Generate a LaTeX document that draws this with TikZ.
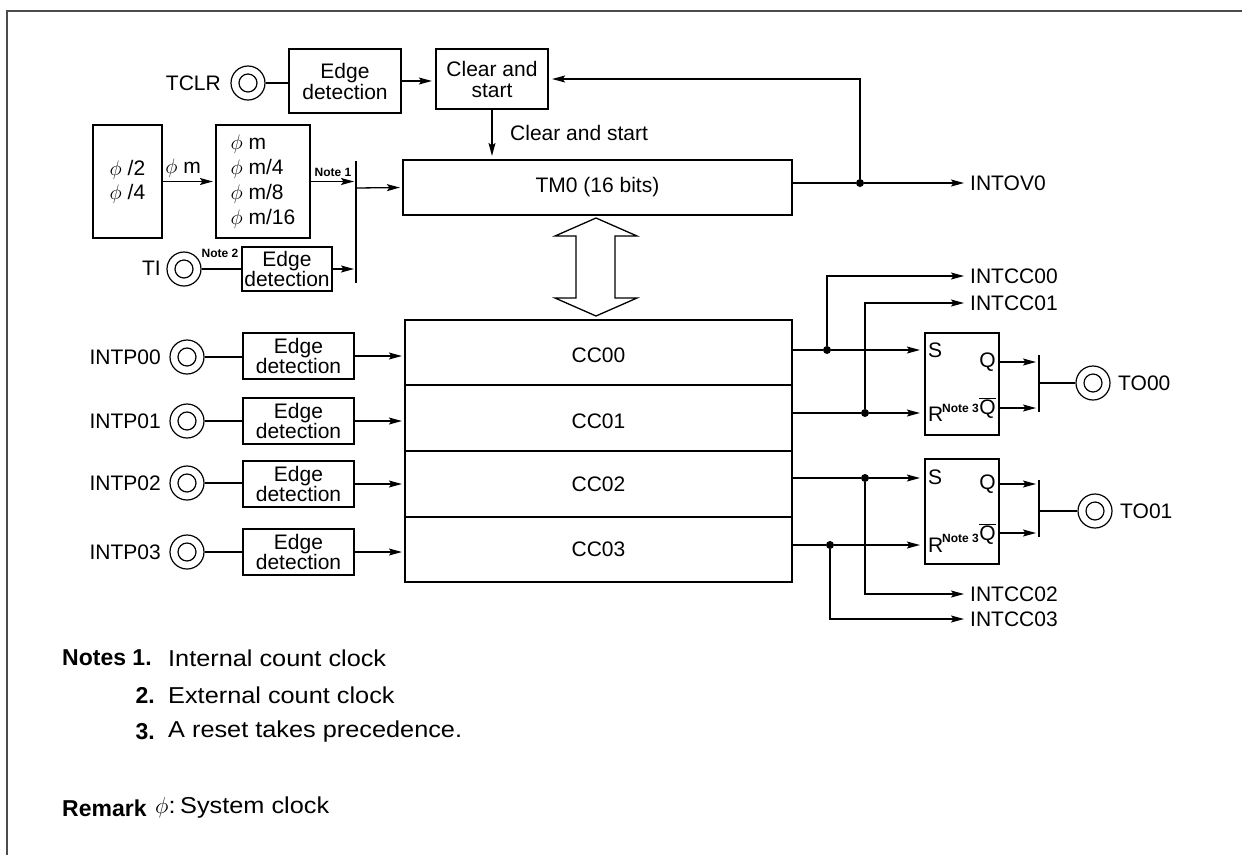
\RequirePackage{fix-cm}
\documentclass[tikz,border=0pt]{standalone}
\usepackage{fontspec}
\setmainfont{Liberation Sans}
\usetikzlibrary{arrows.meta,calc}
\begin{document}
\begin{tikzpicture}[x=1pt,y=-1pt,
  fnt/.style={font=\fontsize{21}{21}\selectfont},
  box/.style={draw, line width=2.2pt, inner sep=0pt, align=center, fnt},
  tbox/.style={box, font=\fontsize{21}{15}\selectfont},
  lbl/.style={inner sep=0pt, fnt},
  small/.style={inner sep=0pt, font=\fontsize{12}{12}\selectfont\bfseries},
  term/.style={circle, draw, line width=1.2pt, minimum size=34pt, inner sep=0pt,
    path picture={\draw[line width=1.2pt] (path picture bounding box.center) circle[radius=9pt];}},
  wire/.style={line width=1.3pt},
  arr/.style={wire, -{Stealth[length=13pt,width=7pt,inset=2.5pt]}},
  dot/.style={circle, fill, inner sep=0pt, minimum size=8pt},
  note/.style={inner sep=0pt, anchor=west, font=\fontsize{23}{23}\selectfont\addfontfeature{FakeStretch=1.1}},
  bnote/.style={inner sep=0pt, anchor=west, font=\fontsize{23}{23}\selectfont\bfseries},
]
\useasboundingbox (0,0) rectangle (1242,855);
\draw[line width=2pt, black!70] (7,855) -- (7,11) -- (1242,11);

% ---- top part
\node[term] (tclr) at (248,83) {};
\node[lbl, anchor=east] (ltclr) at (221,83) {TCLR};
\node[box, minimum width=112pt, minimum height=64pt] (edT) at (345,81) {Edge\\detection};
\node[box, minimum width=112pt, minimum height=60pt] (clr) at (492,79) {Clear and\\start};
\draw[wire] (tclr.east) -- (tclr.east -| edT.west);
\draw[arr, shorten >=3pt] (edT.east) -- (edT.east -| clr.west);
\node[box, minimum width=389pt, minimum height=55pt] (tm) at (597.5,187.5) {TM0 (16 bits)};
\draw[arr, shorten >=3pt] (clr.south) -- (clr.south |- tm.north);
\node[lbl, anchor=west] (lcs) at (510,133) {Clear and start};
\node[lbl, anchor=west] (intov) at (970,183) {INTOV0};
\node[dot] (jov) at (860,183) {};
\draw[wire] (tm.east |- jov) -- (jov);
\draw[arr] (jov) -- ([xshift=-6pt]intov.west);
\draw[arr, shorten >=3pt] (jov) |- (clr.east);

% ---- clock selection
\node[box, minimum width=69pt, minimum height=113pt, font=\fontsize{21}{24}\selectfont] (div) at (127.5,181.5) {$\phi$ /2\\$\phi$ /4};
\node[box, minimum width=94pt, minimum height=113pt, align=left, font=\fontsize{21}{25}\selectfont] (pre) at (263,181.5) {$\phi$ m\\$\phi$ m/4\\$\phi$ m/8\\$\phi$ m/16};
\draw[arr, shorten >=2pt] (div.east) -- (pre.west);
\node[lbl] (lpm) at (183,168) {$\phi$ m};
\coordinate (selT) at (356,161);
\coordinate (selB) at (356,283);
\draw[wire] (selT) -- (selB);
\draw[arr, shorten >=2pt] (pre.east) -- (pre.east -| selT);
\node[small] (n1) at (333,172) {Note 1};
\coordinate (selO) at (356,188);
\draw[arr, shorten >=2pt] (selO) -- (tm.west);
\node[term] (ti) at (184,269) {};
\node[lbl, anchor=east] (lti) at (161,268) {TI};
\node[tbox, minimum width=90pt, minimum height=44pt] (edTI) at (287,269) {Edge\\detection};
\draw[wire] (ti.east) -- (edTI.west);
\node[small] (n2) at (220,253) {Note 2};
\draw[arr, shorten >=2pt] (edTI.east) -- (edTI.east -| selT);

% ---- bidirectional bus arrow
\draw[line width=1.3pt, fill=white] (596,218) -- (637,236) -- (615,236) -- (615,298) -- (637,298)
  -- (596,316) -- (555,298) -- (576,298) -- (576,236) -- (555,236) -- cycle;

% ---- capture/compare registers
\node[box, minimum width=387pt, minimum height=262pt] (cc) at (598.5,451) {};
\foreach \y in {385,451,517} \draw[wire] (cc.west |- 0,\y) -- (cc.east |- 0,\y);
\node[lbl] (cc0) at (598.5,355) {CC00};
\node[lbl] (cc1) at (598.5,421) {CC01};
\node[lbl] (cc2) at (598.5,484) {CC02};
\node[lbl] (cc3) at (598.5,549) {CC03};

\foreach \i/\yc/\yb in {0/357/356, 1/421/421, 2/483/484, 3/552/552} {
  \node[term] (p\i) at (187,\yc) {};
  \node[lbl, anchor=east] (lp\i) at (161,\yc) {INTP0\i};
  \node[tbox, minimum width=111pt, minimum height=46pt] (e\i) at (298.5,\yb) {Edge\\detection};
  \draw[wire] (p\i.east) -- (p\i.east -| e\i.west);
  \draw[arr, shorten >=2pt] (e\i.east) -- (e\i.east -| cc.west);
}

% ---- flip-flops
\node[box, minimum width=74pt, minimum height=102pt] (ff0) at (962,384) {};
\node[box, minimum width=74pt, minimum height=105pt] (ff1) at (962,511.5) {};
\node[lbl, anchor=west] (s0) at (928,350) {S};
\node[lbl, anchor=west] (r0) at (928,414) {R};
\node[small, anchor=west] (n30) at (942,408) {Note 3};
\node[lbl, anchor=east] (q0) at (996,362) {Q};
\node[lbl, anchor=base east] (qb0) at (996,414.5) {$\overline{\hbox{Q}}$};
\node[lbl, anchor=west] (s1) at (928,477) {S};
\node[lbl, anchor=west] (r1) at (928,545) {R};
\node[small, anchor=west] (n31) at (942,538) {Note 3};
\node[lbl, anchor=east] (q1) at (996,484) {Q};
\node[lbl, anchor=base east] (qb1) at (996,540.5) {$\overline{\hbox{Q}}$};

% ---- compare outputs
\node[dot] (d0) at (827,350) {};
\node[dot] (d1) at (865,413) {};
\node[dot] (d2) at (865,478) {};
\node[dot] (d3) at (830,545) {};
\node[lbl, anchor=west] (i0) at (970,276) {INTCC00};
\node[lbl, anchor=west] (i1) at (970,303) {INTCC01};
\node[lbl, anchor=west] (i2) at (970,594) {INTCC02};
\node[lbl, anchor=west] (i3) at (970,619) {INTCC03};
\draw[wire] (cc.east |- d0) -- (d0);
\draw[wire] (cc.east |- d1) -- (d1);
\draw[wire] (cc.east |- d2) -- (d2);
\draw[wire] (cc.east |- d3) -- (d3);
\draw[arr, shorten >=4pt] (d0) -- (d0 -| ff0.west);
\draw[arr, shorten >=4pt] (d1) -- (d1 -| ff0.west);
\draw[arr, shorten >=4pt] (d2) -- (d2 -| ff1.west);
\draw[arr, shorten >=4pt] (d3) -- (d3 -| ff1.west);
\draw[arr] (d0) |- ([xshift=-6pt]i0.west);
\draw[arr] (d1) |- ([xshift=-6pt]i1.west);
\draw[arr] (d2) |- ([xshift=-6pt]i2.west);
\draw[arr] (d3) |- ([xshift=-6pt]i3.west);

% ---- output selectors
\coordinate (b0t) at (1039,355); \coordinate (b0b) at (1039,412); \coordinate (b0m) at (1039,383);
\coordinate (y0q) at (1039,362); \coordinate (y0n) at (1039,408);
\coordinate (b1t) at (1039,480); \coordinate (b1b) at (1039,537); \coordinate (b1m) at (1039,511);
\coordinate (y1q) at (1039,484); \coordinate (y1n) at (1039,533);
\draw[wire] (b0t) -- (b0b);
\draw[wire] (b1t) -- (b1b);
\draw[arr, shorten >=3pt] (y0q -| ff0.east) -- (y0q);
\draw[arr, shorten >=3pt] (y0n -| ff0.east) -- (y0n);
\draw[arr, shorten >=3pt] (y1q -| ff1.east) -- (y1q);
\draw[arr, shorten >=3pt] (y1n -| ff1.east) -- (y1n);
\node[term] (t0) at (1093,383) {};
\node[lbl, anchor=west] (lt0) at (1118,383) {TO00};
\node[term] (t1) at (1095,511) {};
\node[lbl, anchor=west] (lt1) at (1120,511) {TO01};
\draw[wire] (b0m) -- (t0.west);
\draw[wire] (b1m) -- (t1.west);

% ---- notes
\node[bnote] (nn1) at (62,658) {Notes 1.};
\node[note] (nt1) at (168,658) {Internal count clock};
\node[bnote, anchor=east] (nn2) at (155,695) {2.};
\node[note] (nt2) at (168,695) {External count clock};
\node[bnote, anchor=east] (nn3) at (155,732) {3.};
\node[note] (nt3) at (168,732) {A reset takes precedence.};
\node[bnote] (rm) at (62,808) {Remark};
\node[note] (rphi) at (155,808) {$\phi$:};
\node[note] (rsys) at (180,808) {System clock};
\end{tikzpicture}
\end{document}
